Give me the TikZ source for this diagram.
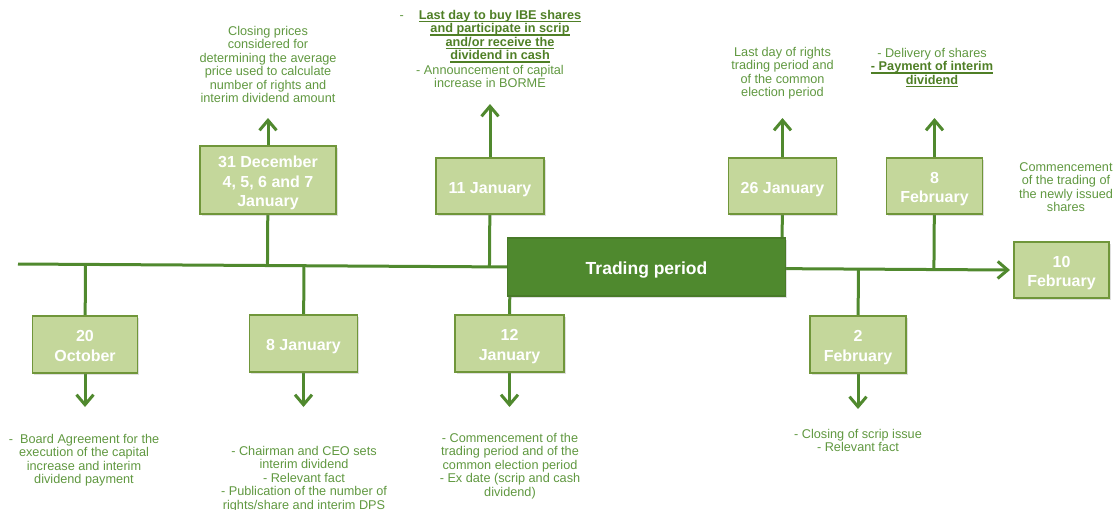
\documentclass[tikz,border=0pt]{standalone}
\usepackage{fontspec}
\setmainfont{Liberation Sans}
\usetikzlibrary{arrows.meta,shadows,backgrounds,calc}

\definecolor{linegreen}{RGB}{80,137,46}
\definecolor{boxfill}{RGB}{196,215,155}
\definecolor{boxline}{RGB}{112,150,58}
\definecolor{notegreen}{RGB}{96,152,64}
\definecolor{darkgreen}{RGB}{79,127,38}
\definecolor{periodfill}{RGB}{79,137,46}
\definecolor{periodline}{RGB}{72,122,40}

% bold underlined line of a note
\newcommand{\keyline}[1]{\leavevmode\setbox0=\hbox{#1}\rlap{\rule[-2.6pt]{\wd0}{1.3pt}}\box0}
% room above the first line of a date box
\newcommand{\datestrut}{\rule[-4pt]{0pt}{22pt}}

\begin{document}
\begin{tikzpicture}[x=1pt, y=-1pt,
    datebox/.style={draw=boxline, fill=boxfill, line width=1.3pt, text=white,
      font=\bfseries\fontsize{16}{19.5}\selectfont, align=center, inner sep=0pt,
      execute at end node={\rule[-4pt]{0pt}{0pt}},
      drop shadow={shadow xshift=1.5pt, shadow yshift=-1.5pt, opacity=0.25}},
    periodbox/.style={draw=periodline, fill=periodfill, line width=1.3pt, text=white,
      font=\bfseries\fontsize{17.5}{21}\selectfont, inner sep=0pt,
      execute at begin node={\rule[-4.5pt]{0pt}{24pt}},
      drop shadow={shadow xshift=1.5pt, shadow yshift=-1.5pt, opacity=0.25}},
    note/.style={text=notegreen, font=\fontsize{12.7}{13.5}\selectfont,
      align=center, inner sep=0pt, anchor=north},
    keynote/.style={note, text=darkgreen, font=\bfseries\fontsize{12.7}{13.5}\selectfont},
    link/.style={draw=linegreen, line width=3pt},
    pointer/.style={link, -{Straight Barb[length=10pt, width=17pt]}}]
        \useasboundingbox (0,0) rectangle (1115,509);

        % Define the date boxes
        \node[datebox, minimum width=136pt, minimum height=68pt] (dec31) at (268,180) {\datestrut 31 December\\4, 5, 6 and 7\\January};
        \node[datebox, minimum width=108pt, minimum height=56pt] (jan11) at (490,186) {\datestrut 11 January};
        \node[datebox, minimum width=108pt, minimum height=56pt] (jan26) at (782.5,186) {\datestrut 26 January};
        \node[datebox, minimum width=96pt, minimum height=56pt] (feb8) at (934.5,186) {\datestrut 8\\February};
        \node[datebox, minimum width=95pt, minimum height=56pt] (feb10) at (1061.5,270) {\datestrut 10\\February};
        \node[datebox, minimum width=105pt, minimum height=57pt] (oct20) at (85,344.5) {\datestrut 20\\October};
        \node[datebox, minimum width=108pt, minimum height=57pt] (jan8) at (303.5,343.5) {\datestrut 8 January};
        \node[datebox, minimum width=109pt, minimum height=57pt] (jan12) at (509.5,343.5) {\datestrut 12\\January};
        \node[datebox, minimum width=96pt, minimum height=57pt] (feb2) at (858,344.5) {\datestrut 2\\February};
        \node[periodbox, minimum width=278pt, minimum height=58pt] (period) at (646.5,267) {Trading period};

        % Define the notes
        \node[note] (closetxt) at (268,26) {Closing prices\\considered for\\determining the average\\price used to calculate\\number of rights and\\interim dividend amount};
        \node[keynote] (buytxt) at (500,10) {\llap{\normalfont\color{notegreen}-\hspace{15pt}}\keyline{Last day to buy IBE shares}\\\keyline{and participate in scrip}\\\keyline{and/or receive the}\\\keyline{dividend in cash}};
        \node[note] (bormetxt) at (490,65) {- Announcement of capital\\increase in BORME};
        \node[note] (rightstxt) at (782.5,47) {Last day of rights\\trading period and\\of the common\\election period};
        \node[note] (paytxt) at (932,48) {- Delivery of shares\\\textbf{\color{darkgreen}\keyline{- Payment of interim}}\\\textbf{\color{darkgreen}\keyline{dividend}}};
        \node[note] (newtxt) at (1066,162) {Commencement\\of the trading of\\the newly issued\\shares};
        \node[note] (boardtxt) at (84,434) {-\ \ Board Agreement for the\\execution of the capital\\increase and interim\\dividend payment};
        \node[note] (ceotxt) at (304,446) {- Chairman and CEO sets\\interim dividend\\- Relevant fact\\- Publication of the number of\\rights/share and interim DPS};
        \node[note] (extxt) at (510,433) {- Commencement of the\\trading period and of the\\common election period\\- Ex date (scrip and cash\\dividend)};
        \node[note] (scriptxt) at (858,429) {- Closing of scrip issue\\- Relevant fact};

        % Define the ends of the line and arrows
        \coordinate (tlstart) at (18,264);
        \coordinate (tlend) at (1010,270);
        \coordinate (dec31tip) at (268,118);
        \coordinate (jan11tip) at (490,104);
        \coordinate (jan26tip) at (782.5,118);
        \coordinate (feb8tip) at (934.5,118);
        \coordinate (oct20tip) at (85,407);
        \coordinate (jan8tip) at (303.5,407);
        \coordinate (jan12tip) at (509.5,407);
        \coordinate (feb2tip) at (858,409);

        % Define the edges
        \begin{scope}[on background layer]
        \draw[pointer] (tlstart) -- (tlend);
        \draw[link] (dec31) -- ($(tlstart)!(dec31)!(tlend)$);
        \draw[link] (jan11) -- ($(tlstart)!(jan11)!(tlend)$);
        \draw[link] (jan26) -- ($(tlstart)!(jan26)!(tlend)$);
        \draw[link] (feb8) -- ($(tlstart)!(feb8)!(tlend)$);
        \draw[link] (oct20) -- ($(tlstart)!(oct20)!(tlend)$);
        \draw[link] (jan8) -- ($(tlstart)!(jan8)!(tlend)$);
        \draw[link] (jan12) -- ($(tlstart)!(jan12)!(tlend)$);
        \draw[link] (feb2) -- ($(tlstart)!(feb2)!(tlend)$);
        \draw[pointer] (dec31) -- (dec31tip);
        \draw[pointer] (jan11) -- (jan11tip);
        \draw[pointer] (jan26) -- (jan26tip);
        \draw[pointer] (feb8) -- (feb8tip);
        \draw[pointer] (oct20) -- (oct20tip);
        \draw[pointer] (jan8) -- (jan8tip);
        \draw[pointer] (jan12) -- (jan12tip);
        \draw[pointer] (feb2) -- (feb2tip);
        \end{scope}
    \end{tikzpicture}
\end{document}
